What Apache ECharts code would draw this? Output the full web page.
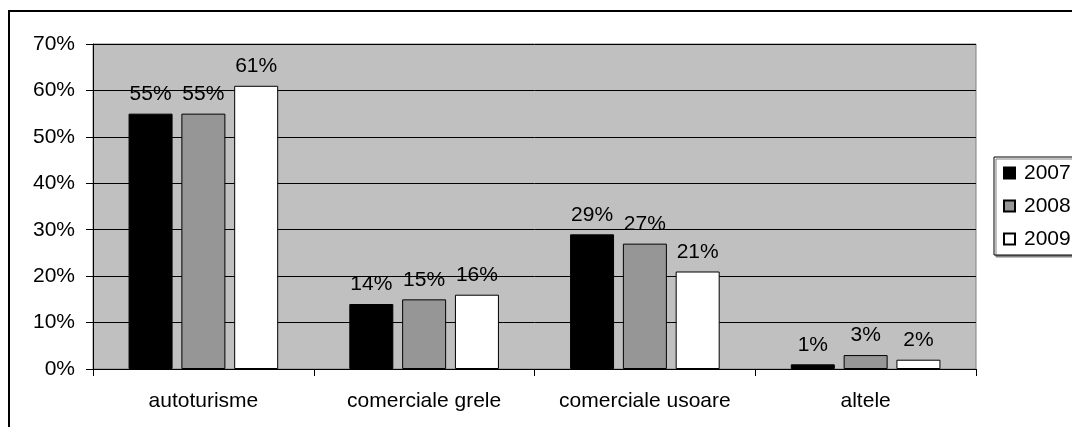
<!DOCTYPE html>
<html>
<head>
<meta charset="utf-8">
<script src="https://cdn.jsdelivr.net/npm/echarts@6/dist/echarts.min.js"></script>
<style>
  html, body { margin: 0; padding: 0; background: #fff; }
  #chart { width: 1072px; height: 427px; }
</style>
</head>
<body>
<div id="chart"></div>
<script>
const categories = ["autoturisme", "comerciale grele", "comerciale usoare", "altele"];
const years = ["2007", "2008", "2009"];
const values2007 = [55, 14, 29, 1];
const values2008 = [55, 15, 27, 3];
const values2009 = [61, 16, 21, 2];
const yTicks = { min: 0, max: 70, step: 10 };
const colors = ["#000000", "#969696", "#ffffff"];

const font = "Liberation Sans, Arial, sans-serif";

function bar(name, data, color) {
  return {
    name: name,
    type: "bar",
    data: data,
    barWidth: 44,
    barGap: "20%",
    itemStyle: { color: color, borderColor: "#000", borderWidth: 1 },
    label: {
      show: true,
      position: "top",
      distance: 9,
      formatter: "{c}%",
      color: "#000",
      fontFamily: font,
      fontSize: 21
    }
  };
}

const chart = echarts.init(document.getElementById("chart"));
chart.setOption({
  animation: false,
  backgroundColor: "#fff",
  graphic: [
    {
      type: "rect",
      shape: { x: 9, y: 11, width: 2000, height: 2000 },
      style: { fill: "none", stroke: "#000", lineWidth: 2 },
      z: -1
    }
  ],
  grid: {
    left: 93,
    right: 96,
    top: 44,
    bottom: 58,
    show: true,
    backgroundColor: "#c0c0c0",
    borderColor: "#808080",
    borderWidth: 1
  },
  legend: {
    data: years,
    orient: "vertical",
    left: 994,
    top: 157,
    padding: [5, 40, 5, 9],
    icon: "rect",
    itemWidth: 11,
    itemHeight: 11,
    itemGap: 11,
    backgroundColor: "#fff",
    borderColor: "#000",
    borderWidth: 1,
    shadowColor: "#808080",
    shadowOffsetX: 2,
    shadowOffsetY: 2,
    shadowBlur: 0,
    textStyle: { color: "#000", fontFamily: font, fontSize: 21, lineHeight: 22, padding: [0, 0, 0, 4] }
  },
  xAxis: {
    type: "category",
    data: categories,
    axisLine: { lineStyle: { color: "#000", width: 1 } },
    axisTick: { show: true, length: 7, lineStyle: { color: "#000" } },
    axisLabel: { interval: 0, color: "#000", fontFamily: font, fontSize: 21, margin: 22 }
  },
  yAxis: {
    type: "value",
    min: yTicks.min,
    max: yTicks.max,
    interval: yTicks.step,
    axisLine: { show: true, lineStyle: { color: "#000", width: 1 } },
    axisTick: { show: true, length: 7, lineStyle: { color: "#000" } },
    splitLine: { show: true, lineStyle: { color: "#000", width: 1 } },
    axisLabel: {
      formatter: "{value}%",
      color: "#000",
      fontFamily: font,
      fontSize: 21,
      margin: 18
    }
  },
  series: [
    bar(years[0], values2007, colors[0]),
    bar(years[1], values2008, colors[1]),
    bar(years[2], values2009, colors[2])
  ]
});
</script>
</body>
</html>
